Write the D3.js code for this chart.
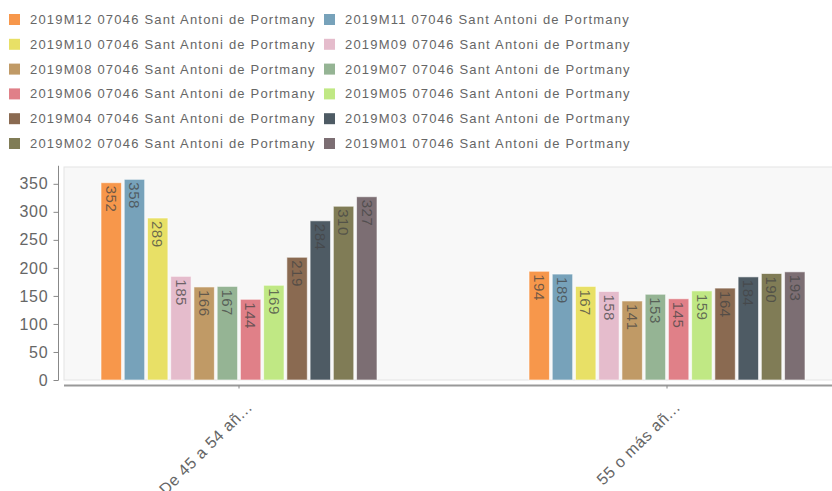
<!DOCTYPE html>
<html>
<head>
<meta charset="utf-8">
<script src="https://cdn.jsdelivr.net/npm/d3@7"></script>
<style>
  body { margin: 0; background: #fff; }
  svg { display: block; font-family: "Liberation Sans", Arial, sans-serif; }
</style>
</head>
<body>
<div id="chart"></div>
<script>
// categories and series
let groups = ["De 45 a 54 añ...", "55 o más añ..."];
let series = ["2019M12", "2019M11", "2019M10", "2019M09", "2019M08", "2019M07",
              "2019M06", "2019M05", "2019M04", "2019M03", "2019M02", "2019M01"];
let place = "07046 Sant Antoni de Portmany";
let values45 = [352, 358, 289, 185, 166, 167, 144, 169, 219, 284, 310, 327];
let values55 = [194, 189, 167, 158, 141, 153, 145, 159, 164, 184, 190, 193];
let colors = ["#f7974b", "#77a2ba", "#e8e066", "#e5bccc", "#c09a66", "#95b494",
              "#e08088", "#c0e884", "#8a6a51", "#4e5b64", "#807c56", "#7c6e73"];
let yTicks = [0, 50, 100, 150, 200, 250, 300, 350];

let width = 832, height = 491;
let plot = {left: 64, top: 167, bottom: 380};

let svg = d3.select("#chart").append("svg")
    .attr("width", width)
    .attr("height", height);

// legend, two columns
let legend = svg.append("g");
let items = legend.selectAll("g").data(series).enter().append("g")
    .attr("transform", (d, i) => "translate(" + (i % 2 == 0 ? 9 : 324) + "," + (14 + Math.floor(i / 2) * 24.8) + ")");
items.append("rect")
    .attr("width", 11).attr("height", 11)
    .attr("fill", (d, i) => colors[i]);
items.append("text")
    .attr("x", 21).attr("y", 10)
    .style("font-size", "13px")
    .style("letter-spacing", "1.2px")
    .attr("fill", "#666")
    .text(d => d + " " + place);

// scales
let x0 = d3.scaleBand().domain(groups).range([25, 881]);
let x1 = d3.scaleBand().domain(series).range([-138, 138]).paddingInner(0.12);
let y = d3.scaleLinear().domain([0, 380]).range([plot.bottom, plot.top]);

// plot background
svg.append("rect")
    .attr("x", plot.left).attr("y", plot.top)
    .attr("width", width - plot.left + 2).attr("height", plot.bottom - plot.top)
    .attr("fill", "#f8f8f8")
    .attr("stroke", "#e4e4e4");

// y axis
let yAxis = svg.append("g")
    .attr("transform", "translate(58.5,0)")
    .call(d3.axisLeft(y).tickValues(yTicks).tickSize(5).tickPadding(5));
yAxis.select(".domain").attr("stroke", "#888").attr("d", "M-0.5," + (plot.top - 1) + "H0V" + plot.bottom + "H-0.5");
yAxis.selectAll(".tick line").attr("stroke", "#888");
yAxis.selectAll(".tick text")
    .attr("fill", "#666")
    .style("font-size", "16px")
    .style("letter-spacing", "0.8px")
    .style("font-family", "Liberation Sans, Arial, sans-serif");

// x axis
let xAxis = svg.append("g")
    .attr("transform", "translate(0,385.5)")
    .call(d3.axisBottom(x0).tickSize(3).tickSizeOuter(0));
xAxis.select(".domain").attr("stroke", "#999").attr("stroke-width", 2).attr("d", "M64,0H" + width);
xAxis.selectAll(".tick line").attr("stroke", "#888");
xAxis.selectAll(".tick text")
    .attr("fill", "#666")
    .style("font-size", "16px")
    .style("letter-spacing", "0.6px")
    .style("font-family", "Liberation Sans, Arial, sans-serif")
    .attr("text-anchor", "end")
    .attr("transform", "translate(10,19) rotate(-45)")
    .attr("dy", "0.35em")
    .attr("y", 0);

// bars
let data = [values45, values55];
let groupG = svg.selectAll(".grp").data(groups).enter().append("g")
    .attr("class", "grp")
    .attr("transform", d => "translate(" + (x0(d) + x0.bandwidth() / 2) + ",0)");

groupG.each(function(g, gi) {
    let rows = series.map((s, i) => ({s: s, v: data[gi][i], c: colors[i]}));
    let gg = d3.select(this);
    gg.selectAll("rect").data(rows).enter().append("rect")
        .attr("x", d => x1(d.s))
        .attr("y", d => y(d.v))
        .attr("width", x1.bandwidth())
        .attr("height", d => y(0) - y(d.v))
        .attr("fill", d => d.c)
        .attr("stroke", "#ffffff")
        .attr("stroke-opacity", 0.6)
        .attr("stroke-width", 1);
    gg.selectAll("text").data(rows).enter().append("text")
        .attr("transform", d => "translate(" + (x1(d.s) + x1.bandwidth() / 2) + "," + (y(d.v) + 3) + ") rotate(90)")
        .attr("dy", "0.35em")
        .attr("text-anchor", "start")
        .style("font-size", "15px")
        .style("letter-spacing", "0.5px")
        .attr("fill", "#444")
        .attr("fill-opacity", 0.75)
        .text(d => d.v);
});
</script>
</body>
</html>
